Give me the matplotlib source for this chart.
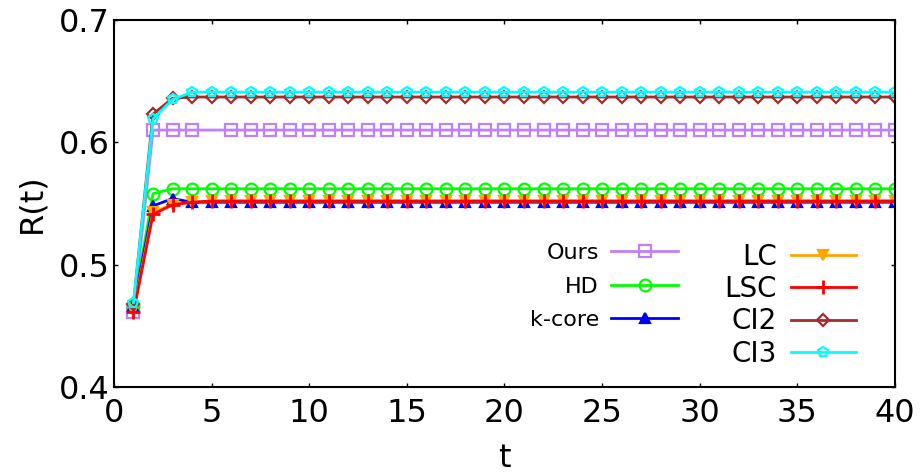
import matplotlib
matplotlib.use('Agg')
import matplotlib.pyplot as plt
import numpy as np

## Données (t = 1..40)

t = np.arange(1, 41)

ours_debut = [0.461]
ours_plateau = 0.610
hd_debut = [0.466, 0.558]
hd_plateau = 0.562
kcore_debut = [0.466, 0.548, 0.554]
kcore_plateau = 0.551
lc_debut = [0.463, 0.543, 0.549, 0.551]
lc_plateau = 0.552
lsc_debut = [0.461, 0.541, 0.549, 0.551]
lsc_plateau = 0.552
ci2_debut = [0.468, 0.623, 0.636]
ci2_plateau = 0.637
ci3_debut = [0.469, 0.619, 0.635]
ci3_plateau = 0.641


def serie(debut, plateau):
    return np.array(debut + [plateau] * (len(t) - len(debut)))


noms = ['Ours', 'HD', 'k-core', 'LC', 'LSC', 'CI2', 'CI3']
valeurs = [serie(ours_debut, ours_plateau), serie(hd_debut, hd_plateau),
           serie(kcore_debut, kcore_plateau), serie(lc_debut, lc_plateau),
           serie(lsc_debut, lsc_plateau), serie(ci2_debut, ci2_plateau),
           serie(ci3_debut, ci3_plateau)]
couleurs = ['#bf80ff', '#00ff00', '#0000ff', '#ffa500', '#ff0000', '#a52a2a', '#00ffff']
marqueurs = ['s', 'o', '^', 'v', '+', 'D', 'p']
tailles = [8, 8.5, 6.5, 6.5, 10, 6.5, 7.5]

xticks = [0, 5, 10, 15, 20, 25, 30, 35, 40]
yticks = [0.4, 0.5, 0.6, 0.7]

## Figure

fig = plt.figure(figsize=(9.22, 4.75), dpi=100)
ax = fig.add_axes([0.1236, 0.1853, 0.8471, 0.7727])

lignes = []
for nom, y, c, m, ms in zip(noms, valeurs, couleurs, marqueurs, tailles):
    markevery = None
    if nom == 'Ours':
        markevery = [i for i in range(len(t)) if i != 4]   # le point t=5 manque
    face = c if m in ('^', 'v') else 'none'
    l, = ax.plot(t, y, color=c, lw=2, marker=m, ms=ms, mfc=face, mec=c,
                 mew=2 if m == '+' else 1.6, markevery=markevery, label=nom)
    lignes.append(l)

ax.set_xlim(0, 40)
ax.set_ylim(0.4, 0.7)
ax.set_xticks(xticks)
ax.set_yticks(yticks)
ax.set_yticklabels([f'{v:.1f}' for v in yticks])
ax.tick_params(direction='in', length=3, width=1, labelsize=23, top=True, right=True,
               labeltop=False, labelright=False)
ax.tick_params(axis='x', pad=8)
ax.tick_params(axis='y', pad=3)
for s in ax.spines.values():
    s.set_linewidth(1.5)

ax.set_xlabel('t', fontsize=23, labelpad=10)
ax.set_ylabel('R(t)', fontsize=23, labelpad=8)

leg1 = ax.legend(handles=lignes[:3], loc='upper right', bbox_to_anchor=(678 / 922, 1 - 243 / 475),
                 bbox_transform=fig.transFigure, frameon=False, markerfirst=False,
                 fontsize=16, handlelength=3.0, labelspacing=0.61, handletextpad=0.55,
                 borderpad=0, borderaxespad=0)
ax.add_artist(leg1)
ax.legend(handles=lignes[3:], loc='upper right', bbox_to_anchor=(856 / 922, 1 - 243 / 475),
          bbox_transform=fig.transFigure, frameon=False, markerfirst=False,
          fontsize=20, handlelength=2.35, labelspacing=0.15, handletextpad=0.5,
          borderpad=0, borderaxespad=0)

fig.savefig('out.png', dpi=100)
